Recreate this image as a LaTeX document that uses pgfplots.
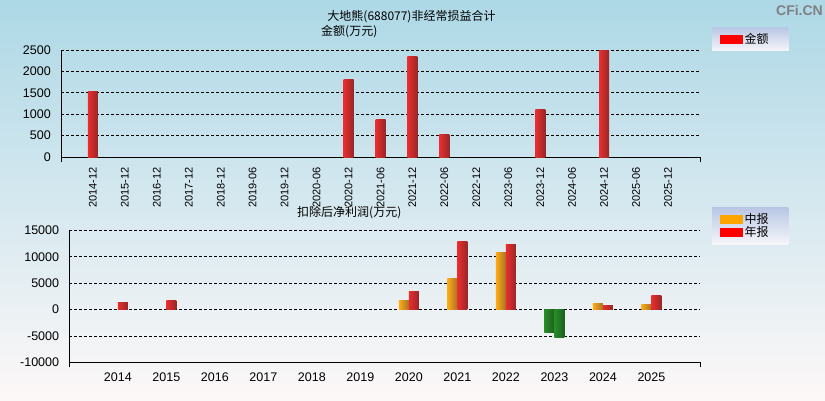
\documentclass[border=0pt]{standalone}
\usepackage{pgfplots}
\pgfplotsset{compat=1.18}
\usepackage{fontspec}
\setmainfont{Liberation Sans}
\newfontfamily\cjk{Noto Sans CJK SC}
\definecolor{bgtop}{RGB}{173,216,230}
\definecolor{bgbot}{RGB}{253,248,248}
\definecolor{legtop}{RGB}{184,198,228}
\definecolor{legbot}{RGB}{246,246,250}
\definecolor{legorange}{RGB}{255,165,0}
\definecolor{rL}{RGB}{235,45,45}
\definecolor{rM}{RGB}{255,105,105}
\definecolor{rR}{RGB}{150,40,40}
\definecolor{oL}{RGB}{255,170,20}
\definecolor{oM}{RGB}{255,205,110}
\definecolor{oR}{RGB}{165,115,40}
\definecolor{gL}{RGB}{40,140,40}
\definecolor{gM}{RGB}{95,180,95}
\definecolor{gR}{RGB}{30,95,30}
% one bar per \addplot so that each bar gets its own shading
\newcommand{\sbar}[3]{\addplot[bar shift=#2, draw=none, left color=#3L, middle color=#3M, right color=#3R, forget plot] coordinates {#1};}
\pgfplotsset{
  common/.style={
    scale only axis,
    anchor=south west,
    axis x line*=bottom, axis y line*=left,
    axis line style={line width=1pt,-},
    ymajorgrids,
    grid style={black, line width=0.8pt, dash pattern=on 3pt off 2pt},
    ytick style={draw=none},
    xtick style={draw=none},
    extra x tick style={tick align=outside, major tick length=5pt, xtick style={draw=black, line width=1pt}},
    tick label style={font=\fontsize{12.5}{14}\selectfont},
    yticklabel style={inner sep=0pt},
    yticklabel shift=10pt,
    scaled y ticks=false,
    /pgf/number format/1000 sep={},
    /pgf/number format/assume math mode=true,
    legend cell align=left,
    ybar, bar width=10pt,
  }
}
\begin{document}
\begin{tikzpicture}[x=1pt,y=1pt]
\shade[top color=bgtop, bottom color=bgbot] (0,0) rectangle (825,400);
\node[font=\cjk\fontsize{12}{14}\selectfont, inner sep=0pt] at (411.5,383) {大地熊(688077)非经常损益合计};
\node[font=\cjk\fontsize{12}{14}\selectfont, inner sep=0pt, anchor=west] at (321,368) {金额(万元)};
\node[font=\cjk\fontsize{12}{14}\selectfont, inner sep=0pt, anchor=west] at (297,187.3) {扣除后净利润(万元)};
\node[font=\fontsize{14}{16}\selectfont\bfseries, text=black!50, inner sep=0pt, anchor=east] at (823,390) {CFi.CN};

\begin{axis}[common,
  at={(61pt,243pt)}, width=639pt, height=107pt,
  xmin=-1, xmax=19, ymin=0, ymax=2500,
  ytick={0,500,...,2500},
  xtick={0,...,18},
  xticklabels={2014-12,2015-12,2016-12,2017-12,2018-12,2019-06,2019-12,2020-06,2020-12,2021-06,2021-12,2022-06,2022-12,2023-06,2023-12,2024-06,2024-12,2025-06,2025-12},
  xticklabel style={rotate=90, anchor=east, inner sep=0pt, font=\fontsize{11}{13}\selectfont},
  xticklabel shift=6pt,
  extra x ticks={-1,19}, extra x tick labels={},
  legend style={at={(1.0188,1.215)}, anchor=north west, draw=none, top color=legtop, bottom color=legbot,
    font=\cjk\fontsize{12}{14}\selectfont, inner xsep=8pt, inner ysep=4pt},
]
% 非经常损益合计 (万元)
\sbar{(0,1520)}{0pt}{r}
\sbar{(8,1800)}{0pt}{r}
\sbar{(9,865)}{0pt}{r}
\sbar{(10,2340)}{0pt}{r}
\sbar{(11,515)}{0pt}{r}
\sbar{(14,1120)}{0pt}{r}
\sbar{(16,2480)}{0pt}{r}
\addlegendimage{legend image code/.code={\fill[red] (0pt,-4pt) rectangle (22pt,4pt);}}
\addlegendentry{金额\rule{10pt}{0pt}}
\end{axis}

\begin{axis}[common,
  at={(69.3pt,37.7pt)}, width=630.7pt, height=132pt,
  xmin=2013, xmax=2026, ymin=-10000, ymax=15000,
  ytick={-10000,-5000,0,5000,10000,15000},
  xtick={2014,...,2025},
  xticklabels={2014,2015,2016,2017,2018,2019,2020,2021,2022,2023,2024,2025},
  xticklabel style={inner sep=0pt, anchor=north},
  xticklabel shift=6.5pt,
  extra x ticks={2013,2026}, extra x tick labels={},
  legend style={at={(1.019,1.1765)}, anchor=north west, draw=none, top color=legtop, bottom color=legbot,
    font=\cjk\fontsize{12}{14}\selectfont, inner xsep=8pt, inner ysep=4pt, row sep=-2pt},
]
% 中报
\sbar{(2020,1700)}{-5pt}{o}
\sbar{(2021,5900)}{-5pt}{o}
\sbar{(2022,10860)}{-5pt}{o}
\sbar{(2023,-4380)}{-5pt}{g}
\sbar{(2024,1140)}{-5pt}{o}
\sbar{(2025,950)}{-5pt}{o}
% 年报
\sbar{(2014,1330)}{5pt}{r}
\sbar{(2015,1770)}{5pt}{r}
\sbar{(2020,3430)}{5pt}{r}
\sbar{(2021,12960)}{5pt}{r}
\sbar{(2022,12390)}{5pt}{r}
\sbar{(2023,-5340)}{5pt}{g}
\sbar{(2024,760)}{5pt}{r}
\sbar{(2025,2670)}{5pt}{r}
\addlegendimage{legend image code/.code={\fill[legorange] (0pt,-4pt) rectangle (22pt,4pt);}}
\addlegendentry{中报\rule{10pt}{0pt}}
\addlegendimage{legend image code/.code={\fill[red] (0pt,-4pt) rectangle (22pt,4pt);}}
\addlegendentry{年报\rule{10pt}{0pt}}
\end{axis}
\pgfresetboundingbox
\path[use as bounding box] (0,0) rectangle (825,400);
\end{tikzpicture}
\end{document}
